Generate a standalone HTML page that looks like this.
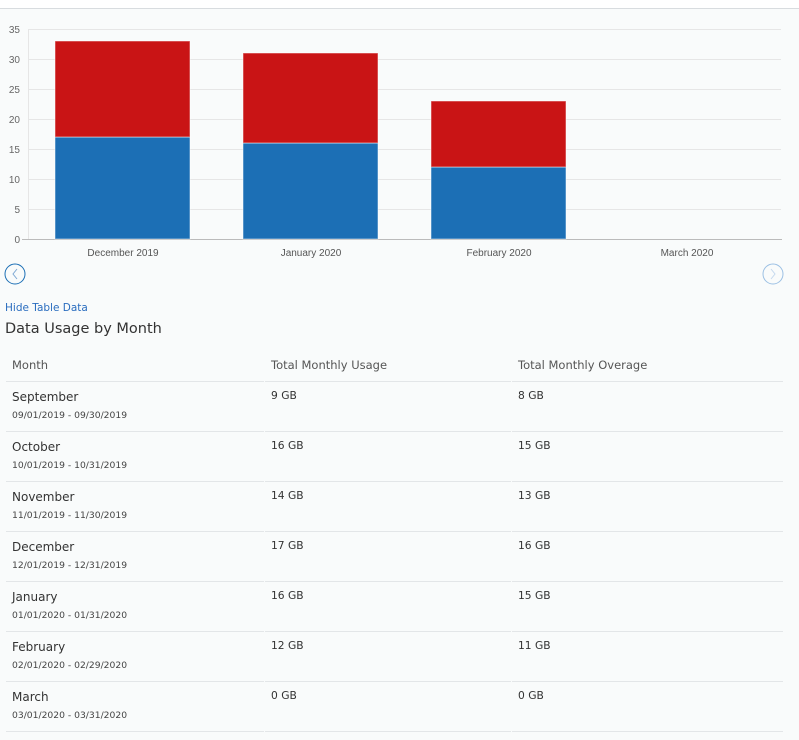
<!DOCTYPE html>
<html><head><meta charset="utf-8"><style>
body{margin:0;width:799px;height:740px;background:#f9fbfb;font-family:"Liberation Sans",sans-serif;position:relative;overflow:hidden}
.top{position:absolute;left:0;top:0;width:799px;height:8px;background:#fff;border-bottom:1px solid #d8dcdf}
.t{position:absolute;white-space:nowrap;font-family:"DejaVu Sans","Liberation Sans",sans-serif;color:#333}
.hl{position:absolute;height:1px;background:#e3e6e8}
</style></head><body>
<div class="top"></div>
<svg style="position:absolute;left:0;top:0" width="799" height="300">
<g stroke="#e6e6e6" stroke-width="1">
<line x1="28" x2="781" y1="29.5" y2="29.5"/><line x1="28" x2="781" y1="59.5" y2="59.5"/>
<line x1="28" x2="781" y1="89.5" y2="89.5"/><line x1="28" x2="781" y1="119.5" y2="119.5"/>
<line x1="28" x2="781" y1="149.5" y2="149.5"/><line x1="28" x2="781" y1="179.5" y2="179.5"/>
<line x1="28" x2="781" y1="209.5" y2="209.5"/>
<line x1="28.5" x2="28.5" y1="29" y2="239"/>
</g>
<line x1="22" x2="782" y1="239.5" y2="239.5" stroke="#bbb"/>
<g font-family="Liberation Sans" font-size="10" fill="#666" text-anchor="end">
<text x="20" y="33">35</text><text x="20" y="63">30</text><text x="20" y="93">25</text><text x="20" y="123">20</text><text x="20" y="153">15</text><text x="20" y="183">10</text><text x="20" y="213">5</text><text x="20" y="243">0</text>
</g>
<g stroke="#fff" stroke-opacity="0.5">
<rect x="55" y="137" width="135" height="102" fill="#1c6fb5"/><rect x="55" y="41" width="135" height="96" fill="#c91415"/>
<rect x="243" y="143" width="135" height="96" fill="#1c6fb5"/><rect x="243" y="53" width="135" height="90" fill="#c91415"/>
<rect x="431" y="167" width="135" height="72" fill="#1c6fb5"/><rect x="431" y="101" width="135" height="66" fill="#c91415"/>
</g>
<g font-family="Liberation Sans" font-size="10" fill="#555" text-anchor="middle">
<text x="123" y="256">December 2019</text><text x="311" y="256">January 2020</text><text x="499" y="256">February 2020</text><text x="687" y="256">March 2020</text>
</g>
<circle cx="15" cy="274" r="10" fill="none" stroke="#1c6fb5" stroke-width="1"/>
<path d="M17 269 L13 274 L17 279" fill="none" stroke="#7fa9d4"/>
<circle cx="773" cy="274" r="10" fill="none" stroke="#9cc0e4" stroke-width="1"/>
<path d="M771 269 L775 274 L771 279" fill="none" stroke="#c5d9ee"/>
</svg>
<div class="t" style="left:5px;top:302px;font-size:10.5px;color:#2a6dbf">Hide Table Data</div>
<div class="t" style="left:5px;top:321px;font-size:14.5px;color:#333">Data Usage by Month</div>
<div class="t" style="left:12px;top:358px;font-size:11.5px;color:#555">Month</div>
<div class="t" style="left:271px;top:358px;font-size:11.5px;color:#555">Total Monthly Usage</div>
<div class="t" style="left:518px;top:358px;font-size:11.5px;color:#555">Total Monthly Overage</div>
<div id="rows"></div>
<script>
var d=[["September","09/01/2019 - 09/30/2019","9 GB","8 GB"],["October","10/01/2019 - 10/31/2019","16 GB","15 GB"],["November","11/01/2019 - 11/30/2019","14 GB","13 GB"],["December","12/01/2019 - 12/31/2019","17 GB","16 GB"],["January","01/01/2020 - 01/31/2020","16 GB","15 GB"],["February","02/01/2020 - 02/29/2020","12 GB","11 GB"],["March","03/01/2020 - 03/31/2020","0 GB","0 GB"]];
var h="";
function line(y){h+='<div class="hl" style="left:6px;top:'+y+'px;width:258px"></div><div class="hl" style="left:265px;top:'+y+'px;width:246px"></div><div class="hl" style="left:512px;top:'+y+'px;width:271px"></div>';}
line(381);
d.forEach(function(r,i){var y=381+i*50;
h+='<div class="t" style="left:12px;top:'+(y+9)+'px;font-size:12px;color:#333">'+r[0]+'</div>';
h+='<div class="t" style="left:12px;top:'+(y+29)+'px;font-size:9.2px;color:#444">'+r[1]+'</div>';
h+='<div class="t" style="left:271px;top:'+(y+8)+'px;font-size:10.7px;color:#333">'+r[2]+'</div>';
h+='<div class="t" style="left:518px;top:'+(y+8)+'px;font-size:10.7px;color:#333">'+r[3]+'</div>';
line(y+50);});
document.getElementById("rows").innerHTML=h;
</script>
</body></html>
